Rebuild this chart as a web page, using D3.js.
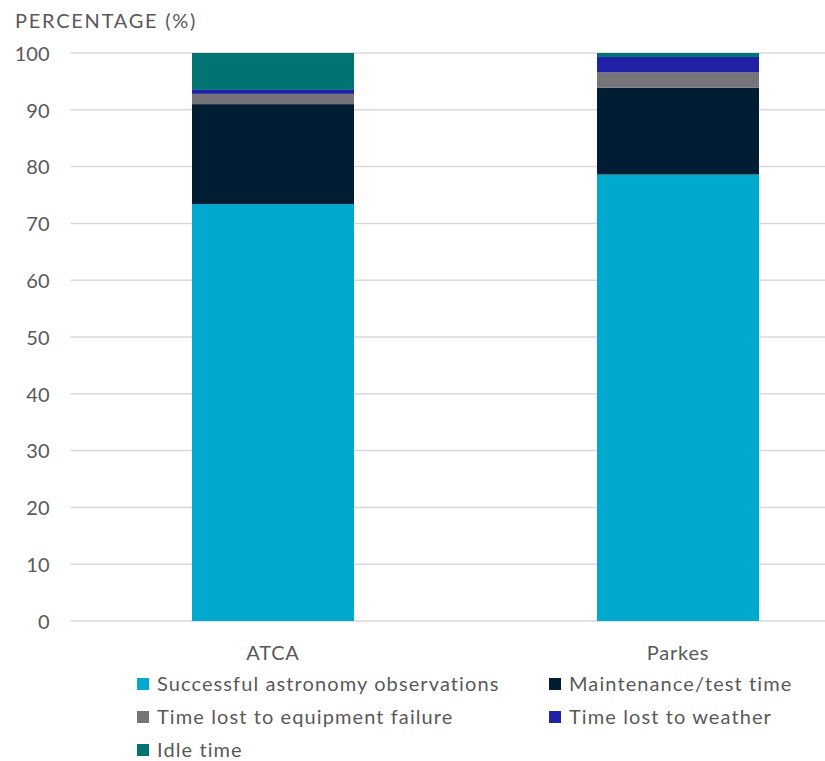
<!DOCTYPE html>
<html>
<head>
<meta charset="utf-8">
<script src="https://cdn.jsdelivr.net/npm/d3@7"></script>
<style>
  html, body { margin: 0; padding: 0; background: #fff; }
  svg text { font-family: Lato, "Open Sans", sans-serif; fill: #595959; }
</style>
</head>
<body>
<svg id="chart" width="825" height="761"></svg>
<script>
// ---- data ----
const categories = ["ATCA", "Parkes"];
const seriesNames = [
  "Successful astronomy observations",
  "Maintenance/test time",
  "Time lost to equipment failure",
  "Time lost to weather",
  "Idle time"
];
const successful = [73.4, 78.6];
const maintenance = [17.6, 15.3];
const equipment = [1.8, 2.7];
const weather = [0.7, 2.7];
const idle = [6.5, 0.7];
const yTicks = [0, 10, 20, 30, 40, 50, 60, 70, 80, 90, 100];
const seriesColors = ["#00A9CE", "#001D33", "#757479", "#2121A8", "#007373"];

(function () {
// ---- build table ----
const seriesValues = [successful, maintenance, equipment, weather, idle];
const keys = seriesNames;
const table = categories.map((c, i) => {
  const row = { category: c };
  keys.forEach((k, j) => row[k] = seriesValues[j][i]);
  return row;
});
const stacked = d3.stack().keys(keys)(table);

const svg = d3.select("#chart");
const mLeft = 70.5, mRight = 880.5, mTop = 53, mBottom = 621;

const x = d3.scaleBand().domain(categories).range([mLeft, mRight]).padding(0);
const y = d3.scaleLinear().domain([0, 100]).range([mBottom, mTop]);
const color = d3.scaleOrdinal().domain(keys).range(seriesColors);

// gridlines
svg.append("g")
  .selectAll("line")
  .data(yTicks)
  .join("line")
  .attr("x1", mLeft).attr("x2", 825)
  .attr("y1", d => y(d)).attr("y2", d => y(d))
  .attr("stroke", "#d9d9d9")
  .attr("stroke-width", 1.5);

// y axis labels
const yAxis = d3.axisLeft(y).tickValues(yTicks).tickSize(0).tickPadding(0);
const gy = svg.append("g").attr("transform", "translate(49.5,0)").call(yAxis);
gy.select(".domain").remove();
gy.selectAll("text")
  .attr("font-size", 20)
  .attr("font-family", "Lato, sans-serif")
  .attr("fill", "#595959")
  .attr("dy", "0.36em");

// title
svg.append("text")
  .attr("x", 15).attr("y", 28)
  .attr("font-size", 20)
  .attr("letter-spacing", 1.75)
  .text("PERCENTAGE (%)");

// bars
const barW = x.bandwidth() * 0.4;
svg.append("g")
  .selectAll("g")
  .data(stacked)
  .join("g")
  .attr("fill", d => color(d.key))
  .selectAll("rect")
  .data(d => d)
  .join("rect")
  .attr("x", d => x(d.data.category) + (x.bandwidth() - barW) / 2)
  .attr("width", barW)
  .attr("y", d => y(d[1]))
  .attr("height", d => y(d[0]) - y(d[1]));

// x axis labels
const xAxis = d3.axisBottom(x).tickSize(0).tickPadding(0);
const gx = svg.append("g").attr("transform", `translate(0,${mBottom})`).call(xAxis);
gx.select(".domain").remove();
gx.selectAll("text")
  .attr("font-size", 20)
  .attr("font-family", "Lato, sans-serif")
  .attr("letter-spacing", 0.8)
  .attr("fill", "#595959")
  .attr("dy", null)
  .attr("y", 39);

// legend
const legendPos = [
  { x: 137, y: 691 }, { x: 549, y: 691 },
  { x: 137, y: 724 }, { x: 549, y: 724 },
  { x: 137, y: 757 }
];
const lg = svg.append("g")
  .selectAll("g")
  .data(keys)
  .join("g")
  .attr("transform", (d, i) => `translate(${legendPos[i].x},${legendPos[i].y})`);
lg.append("rect")
  .attr("x", 0).attr("y", -13)
  .attr("width", 12).attr("height", 12)
  .attr("fill", d => color(d));
lg.append("text")
  .attr("x", 20).attr("y", 0)
  .attr("font-size", 20)
  .attr("letter-spacing", 1.1)
  .text(d => d);
})();
</script>
</body>
</html>
